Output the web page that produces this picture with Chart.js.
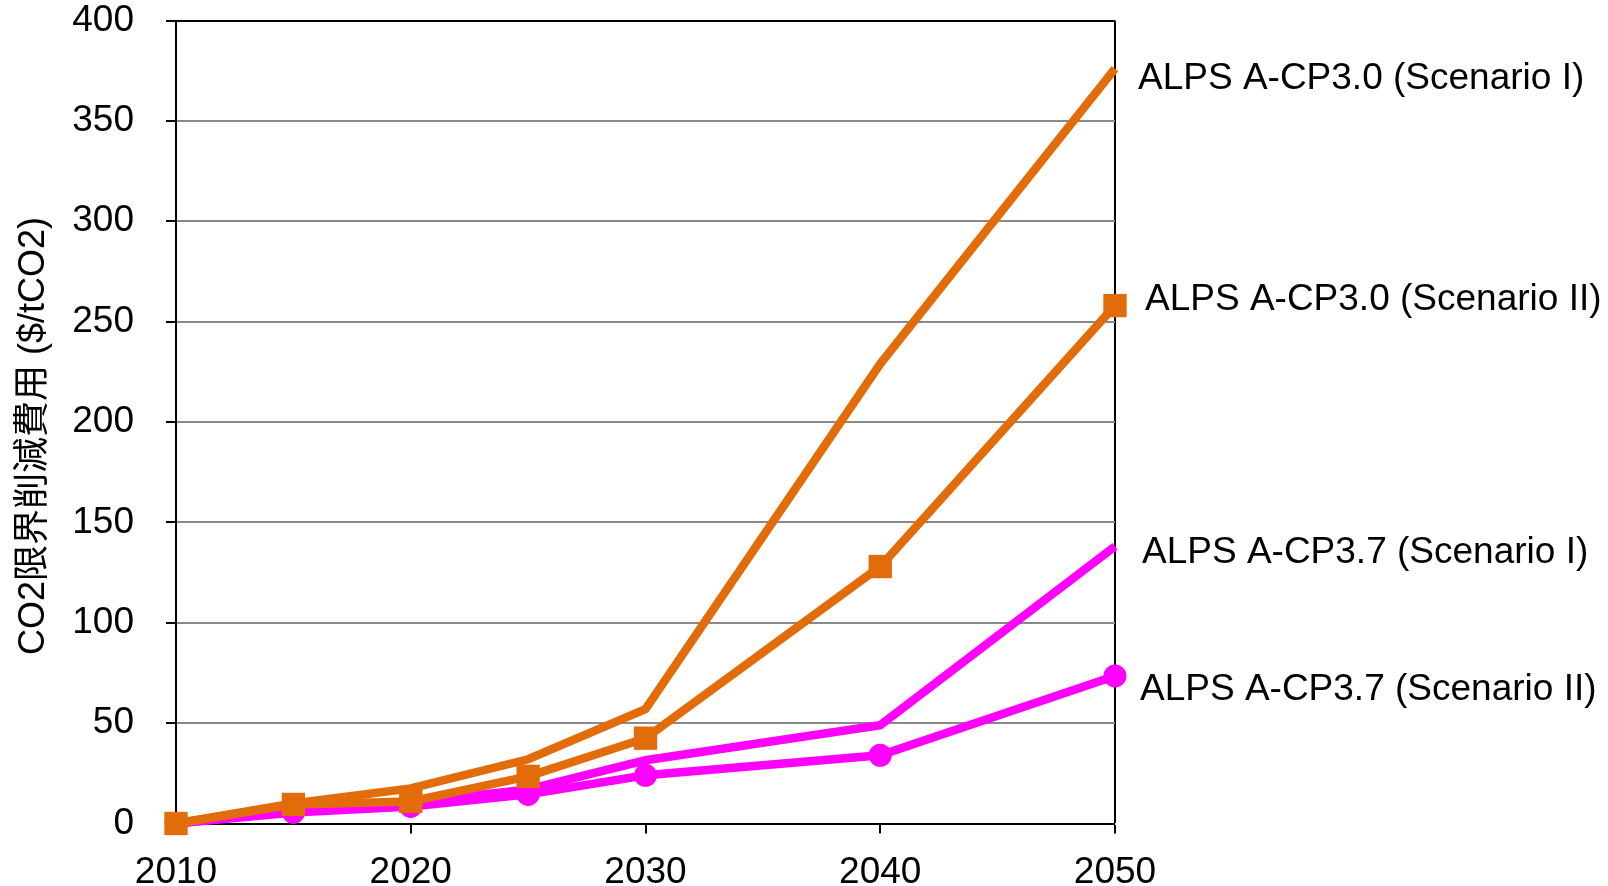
<!DOCTYPE html>
<html>
<head>
<meta charset="utf-8">
<script src="https://cdn.jsdelivr.net/npm/chart.js@4/dist/chart.umd.min.js"></script>
<style>
  html, body { margin: 0; padding: 0; background: #ffffff; }
  #wrap { width: 1608px; height: 886px; position: relative; }
</style>
</head>
<body>
<div id="wrap"><canvas id="chart" width="1608" height="886"></canvas></div>
<script>
// Marginal CO2 abatement cost by scenario ($/tCO2)
const years = [2010, 2015, 2020, 2025, 2030, 2040, 2050];
const cp30ScenarioI  = [0, 10, 17.5, 32, 57, 229, 376];
const cp30ScenarioII = [0, 9.5, 11, 23.5, 42.5, 128, 258];
const cp37ScenarioI  = [0, 6.5, 10.5, 17, 31.5, 49, 138];
const cp37ScenarioII = [0, 5.5, 8.5, 14.5, 24, 34, 73.5];

const seriesNames = [
  'ALPS A-CP3.0 (Scenario I)',
  'ALPS A-CP3.0 (Scenario II)',
  'ALPS A-CP3.7 (Scenario I)',
  'ALPS A-CP3.7 (Scenario II)'
];
const xTickLabels = [2010, 2020, 2030, 2040, 2050];
const yTickLabels = [0, 50, 100, 150, 200, 250, 300, 350, 400];
const yAxisTitle = 'CO2限界削減費用 ($/tCO2)';

// Styling
const ORANGE = '#E36C0A';
const MAGENTA = '#FF00FF';
const GRID_GREY = '#898989';
const FONT_FAMILY = '"Liberation Sans", Arial, sans-serif';
const TICK_FONT = { family: FONT_FAMILY, size: 37 };
const LABEL_FONT = '37px "Liberation Sans", Arial, sans-serif';
const TITLE_FONT = '36px "Liberation Sans", "Noto Sans CJK JP", sans-serif';
// end-of-line label placement relative to each series' last point (px)
const endLabelOffsets = [
  { dx: 23, dy: 10 },
  { dx: 30, dy: -6 },
  { dx: 27, dy: 6 },
  { dx: 25, dy: 14 }
];

const toPoints = (vals) => vals.map((v, i) => ({ x: years[i], y: v }));

const seriesValues = [cp30ScenarioI, cp30ScenarioII, cp37ScenarioI, cp37ScenarioII];
const seriesStyles = [
  { color: ORANGE,  pointStyle: 'circle', radius: 0 },
  { color: ORANGE,  pointStyle: 'rect',   radius: 16.5 },
  { color: MAGENTA, pointStyle: 'circle', radius: 0 },
  { color: MAGENTA, pointStyle: 'circle', radius: 11.5 }
];

const datasets = seriesValues.map((vals, i) => ({
  label: seriesNames[i],
  data: toPoints(vals),
  borderColor: seriesStyles[i].color,
  backgroundColor: seriesStyles[i].color,
  borderWidth: 8.5,
  tension: 0,
  pointStyle: seriesStyles[i].pointStyle,
  pointRadius: seriesStyles[i].radius,
  pointHoverRadius: seriesStyles[i].radius,
  pointBorderWidth: 0,
  pointBackgroundColor: seriesStyles[i].color,
  borderJoinStyle: 'miter',
  clip: false
}));

// Labels at the right end of each line
const endLabels = {
  id: 'endLabels',
  afterDatasetsDraw(chart) {
    const ctx = chart.ctx;
    const x = chart.scales.x;
    const y = chart.scales.y;
    ctx.save();
    ctx.font = LABEL_FONT;
    ctx.fillStyle = '#000';
    ctx.textAlign = 'left';
    ctx.textBaseline = 'middle';
    seriesValues.forEach((vals, i) => {
      const last = vals.length - 1;
      const px = x.getPixelForValue(years[last]) + endLabelOffsets[i].dx;
      const py = y.getPixelForValue(vals[last]) + endLabelOffsets[i].dy;
      ctx.fillText(seriesNames[i], px, py);
    });
    ctx.restore();
  }
};

// Rotated y-axis title
const yTitlePlugin = {
  id: 'yTitle',
  afterDraw(chart) {
    const ctx = chart.ctx;
    const area = chart.chartArea;
    ctx.save();
    ctx.font = TITLE_FONT;
    ctx.fillStyle = '#000';
    ctx.textAlign = 'center';
    ctx.textBaseline = 'middle';
    ctx.translate(34, (area.top + area.bottom) / 2 + 14);
    ctx.rotate(-Math.PI / 2);
    ctx.fillText(yAxisTitle, 0, 0);
    ctx.restore();
  }
};

new Chart(document.getElementById('chart'), {
  type: 'line',
  data: { datasets },
  plugins: [endLabels, yTitlePlugin],
  options: {
    responsive: false,
    devicePixelRatio: 1,
    animation: false,
    events: [],
    layout: { padding: { left: 0, right: 493, top: 20.5, bottom: 0 } },
    plugins: {
      legend: { display: false },
      tooltip: { enabled: false },
      title: { display: false }
    },
    scales: {
      x: {
        type: 'linear',
        min: xTickLabels[0],
        max: xTickLabels[xTickLabels.length - 1],
        afterBuildTicks(scale) {
          scale.ticks = xTickLabels.map(v => ({ value: v }));
        },
        afterFit(scale) {
          scale.height = 62.5;
          scale.paddingLeft = 0;
          scale.paddingRight = 0;
        },
        ticks: {
          font: TICK_FONT,
          color: '#000',
          padding: 17,
          maxRotation: 0,
          autoSkip: false,
          callback: (v) => String(v)
        },
        grid: {
          display: true,
          drawOnChartArea: true,
          drawTicks: true,
          tickLength: 10,
          color: '#000',
          lineWidth: (ctx) => (ctx.tick && ctx.tick.value === xTickLabels[xTickLabels.length - 1]) ? 2 : 0,
          tickColor: '#000',
          tickWidth: 2
        },
        border: { display: true, color: '#000', width: 2 }
      },
      y: {
        type: 'linear',
        min: yTickLabels[0],
        max: yTickLabels[yTickLabels.length - 1],
        afterBuildTicks(scale) {
          scale.ticks = yTickLabels.map(v => ({ value: v }));
        },
        afterFit(scale) {
          scale.width = 176;
          scale.paddingTop = 0;
          scale.paddingBottom = 0;
        },
        ticks: {
          font: TICK_FONT,
          color: '#000',
          padding: 32,
          autoSkip: false,
          callback: (v) => String(v)
        },
        grid: {
          display: true,
          drawTicks: true,
          tickLength: 10,
          color: (ctx) => (ctx.tick && (ctx.tick.value === yTickLabels[yTickLabels.length - 1] || ctx.tick.value === 0)) ? '#000' : GRID_GREY,
          lineWidth: 2,
          tickColor: '#000',
          tickWidth: 2
        },
        border: { display: true, color: '#000', width: 2 }
      }
    }
  }
});
</script>
</body>
</html>
